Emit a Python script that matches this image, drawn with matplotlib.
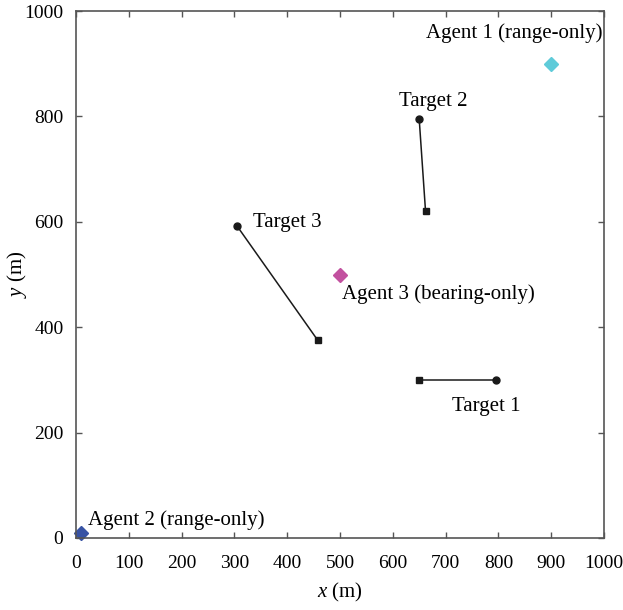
import matplotlib
matplotlib.use('Agg')
import matplotlib.pyplot as plt

plt.rcParams.update({'font.family': 'Liberation Serif', 'font.size': 14,
                     'mathtext.fontset': 'custom', 'mathtext.it': 'Liberation Serif:italic',
                     'mathtext.rm': 'Liberation Serif'})

# targets: start (circle) -> end (square)
target_names = ['Target 1', 'Target 2', 'Target 3']
target_start_x = [795, 650, 305]
target_start_y = [300, 795, 592]
target_end_x = [650, 662, 458]
target_end_y = [300, 620, 375]
target_label_xy = [(713, 250), (612, 829), (335, 598)]

# agents
agent_names = ['Agent 1 (range-only)', 'Agent 2 (range-only)', 'Agent 3 (bearing-only)']
agent_x = [900, 10, 500]
agent_y = [900, 10, 500]
agent_colors = ['#5fcbd9', '#3853a4', '#c2519f']
agent_label_xy = [(830, 958), (23, 34), (503, 463)]
agent_label_ha = ['center', 'left', 'left']

fig = plt.figure(figsize=(6.23, 6.10), dpi=100)
ax = fig.add_axes([76 / 623, 1 - 538 / 610, 528 / 623, 527 / 610])

for i in range(3):
    ax.plot([target_start_x[i], target_end_x[i]], [target_start_y[i], target_end_y[i]],
            color='#1a1a1a', lw=1.1)
    ax.plot(target_start_x[i], target_start_y[i], 'o', color='#1a1a1a', ms=5)
    ax.plot(target_end_x[i], target_end_y[i], 's', color='#1a1a1a', ms=4.5)
    lx, ly = target_label_xy[i]
    ax.text(lx, ly, target_names[i], ha='left', va='center', fontsize=15)

for i in range(3):
    ax.plot(agent_x[i], agent_y[i], 'D', color=agent_colors[i], ms=7.5, clip_on=False)
    lx, ly = agent_label_xy[i]
    ax.text(lx, ly, agent_names[i], ha=agent_label_ha[i], va='center', fontsize=15)

ax.set_xlim(0, 1000)
ax.set_ylim(0, 1000)
ax.set_xticks(range(0, 1001, 100))
ax.set_yticks(range(0, 1001, 200))
ax.tick_params(direction='in', top=True, right=True, length=4, width=1, color='#555555',
               labelsize=14, pad=9)
ax.tick_params(axis='x', pad=12)
for s in ax.spines.values():
    s.set_color('#555555')
    s.set_linewidth(1.2)
ax.set_xlabel(r'$x$ (m)', fontsize=15, va='center')
ax.set_ylabel(r'$y$ (m)', fontsize=15, va='center')
ax.xaxis.set_label_coords(0.5, -0.104)
ax.yaxis.set_label_coords(-0.112, 0.5)

fig.savefig('out.png', dpi=100)
